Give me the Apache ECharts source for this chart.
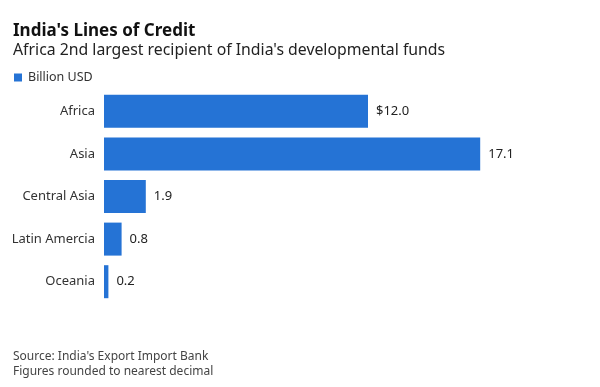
<!DOCTYPE html>
<html><head><meta charset="utf-8">
<script src="https://cdn.jsdelivr.net/npm/echarts@6/dist/echarts.min.js"></script>
<style>html,body{margin:0;padding:0;background:#fff}#c{width:600px;height:387px}</style>
</head><body><div id="c"></div>
<script>
const categories = ["Africa", "Asia", "Central Asia", "Latin Amercia", "Oceania"];
const values = [12.0, 17.1, 1.9, 0.8, 0.2];
const seriesName = "Billion USD";
const titleText = "India's Lines of Credit";
const subtitleText = "Africa 2nd largest recipient of India's developmental funds";
const footerLines = ["Source: India's Export Import Bank", "Figures rounded to nearest decimal"];

const FONT = "Noto Sans";
const chart = echarts.init(document.getElementById('c'), null, {renderer: 'canvas'});
chart.setOption({
  animation: false,
  backgroundColor: '#fff',
  title: {
    text: titleText, subtext: subtitleText, left: 8, top: 18, itemGap: 2,
    textStyle: {fontFamily: FONT, fontWeight: 'bold', fontSize: 17, color: '#111'},
    subtextStyle: {fontFamily: FONT, fontSize: 15.8, color: '#222'}
  },
  legend: {
    left: 9, top: 66, icon: 'rect', itemWidth: 8, itemHeight: 8, itemGap: 4,
    textStyle: {fontFamily: FONT, fontSize: 12.5, color: '#333', padding: [0,0,0,1]},
    data: [seriesName]
  },
  grid: {left: 104, right: 56, top: 90, bottom: 84, containLabel: false},
  xAxis: {type: 'value', min: 0, max: 20, show: false},
  yAxis: {
    type: 'category', data: categories, inverse: true,
    axisLine: {show: false}, axisTick: {show: false},
    axisLabel: {fontFamily: FONT, fontSize: 13, color: '#333', margin: 9}
  },
  series: [{
    name: seriesName, type: 'bar', data: values, barWidth: 33,
    itemStyle: {color: '#2573d5'},
    label: {
      show: true, position: 'right', distance: 8,
      fontFamily: FONT, fontSize: 13, color: '#222',
      formatter: p => (p.dataIndex === 0 ? '$' : '') + p.value.toFixed(1)
    }
  }],
  graphic: footerLines.map((t, i) => ({
    type: 'text', left: 13, top: 351 + i * 15,
    style: {text: t, font: '12px "' + FONT + '"', fill: '#444'}
  }))
});
</script></body></html>
